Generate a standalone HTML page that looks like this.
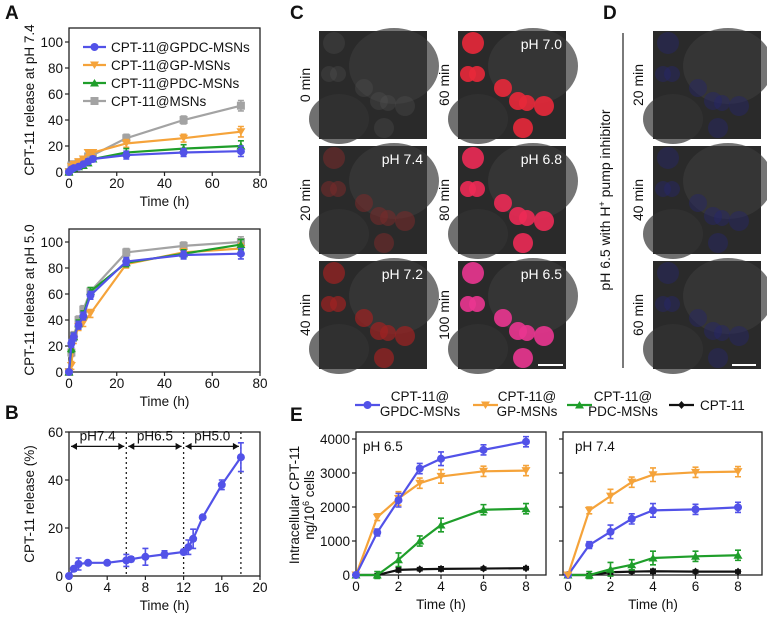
<!DOCTYPE html>
<html><head><meta charset="utf-8">
<style>
html,body{margin:0;padding:0;background:#fff;}
body{width:767px;height:621px;overflow:hidden;font-family:"Liberation Sans",Arial,sans-serif;}
svg text{font-family:"Liberation Sans",Arial,sans-serif;}
</style></head>
<body>
<svg id="fig" width="767" height="621" viewBox="0 0 767 621" xmlns="http://www.w3.org/2000/svg">
<g id="root"></g>
</svg>
<script>
// ---------- Panel A top (pH 7.4) ----------
const aTimes = [0,1,2,4,6,8,10,24,48,72];
const aGPDC = [0,2,3,4,6,8,10,13,15,16];
const aGP = [0,4,6,8,10,15,15,22,26,31];
const aPDC = [0,2,3,4,5,7,10,15,18,20];
const aMSN = [0,5,6,7,8,12,13,26,40,51];
const aErr = [0,1,1,1,1,2,2,3,3,4];
// ---------- Panel A bottom (pH 5.0) ----------
const a5Times = [0,1,2,4,6,9,24,48,72];
const a5GPDC = [0,22,27,36,43,59,85,90,91];
const a5GP = [0,5,25,35,38,45,83,92,95];
const a5PDC = [0,18,27,37,44,62,84,91,98];
const a5MSN = [0,15,28,40,48,62,92,97,100];
const a5Err = [0,3,3,3,3,3,3,3,4];
// ---------- Panel B ----------
const bTimes = [0,0.5,1,2,4,6,6.5,8,10,12,12.5,13,14,16,18];
const bVals = [0,3,5,5.5,5.5,6.5,7,8,9,10,12,15.5,24.5,38,49.5];
const bErr = [0,1,2.5,0.5,0.5,2.5,1,3.5,1.5,1,3,4,0.5,2,6];
const bPhases = ["pH7.4","pH6.5","pH5.0"];
const bBounds = [0,6,12,18];
// ---------- Panel E ----------
const eTimes = [0,1,2,3,4,6,8];
const e65GPDC = [0,1250,2200,3130,3420,3680,3920];
const e65GP = [0,1700,2250,2700,2900,3050,3070];
const e65PDC = [0,0,450,1000,1470,1920,1950];
const e65CPT = [0,0,150,170,180,190,200];
const e74GPDC = [0,880,1270,1650,1900,1930,1990];
const e74GP = [0,1900,2320,2730,2950,3020,3040];
const e74PDC = [0,0,170,300,500,550,580];
const e74CPT = [0,0,80,100,110,100,100];
const eErr = [0,100,200,150,200,150,150];
const eTicksY = [0,1000,2000,3000,4000];
const eTicksX = [0,2,4,6,8];

const NS="http://www.w3.org/2000/svg";
const root=document.getElementById('root');
const C={blue:'#5252e8',orange:'#f5a33a',green:'#1f9e2a',gray:'#a3a3a3',black:'#111'};
function el(tag,attrs,parent){const e=document.createElementNS(NS,tag);for(const k in attrs)e.setAttribute(k,attrs[k]);(parent||root).appendChild(e);return e;}
function txt(x,y,s,attrs,parent){const t=el('text',Object.assign({x:x,y:y,'font-size':13,fill:'#111'},attrs||{}),parent);t.textContent=s;return t;}

function marker(g,shape,x,y,col){
  let m;
  if(shape==='circle') m=el('circle',{cx:x,cy:y,r:4,fill:col},g);
  else if(shape==='square') m=el('rect',{x:x-4,y:y-4,width:8,height:8,fill:col},g);
  else if(shape==='down') m=el('polygon',{points:`${x-4.5},${y-3.5} ${x+4.5},${y-3.5} ${x},${y+4}`,fill:col},g);
  else if(shape==='up') m=el('polygon',{points:`${x-4.5},${y+3.5} ${x+4.5},${y+3.5} ${x},${y-4}`,fill:col},g);
  else m=el('polygon',{points:`${x},${y-4} ${x+3.5},${y} ${x},${y+4} ${x-3.5},${y}`,fill:col},g);
  
  
}
function series(g,xs,ys,errs,sx,sy,col,shape,name){
  const sg=el('g',{},g);
  
  
  let d='';
  xs.forEach((t,i)=>{d+=(i?'L':'M')+sx(t)+','+sy(ys[i]);});
  el('path',{d:d,fill:'none',stroke:col,'stroke-width':2.2},sg);
  xs.forEach((t,i)=>{
    const e=errs?errs[i]:0;
    if(e>0){const x=sx(t);
      el('path',{d:`M${x},${sy(ys[i]-e)}V${sy(ys[i]+e)}M${x-3},${sy(ys[i]-e)}h6M${x-3},${sy(ys[i]+e)}h6`,stroke:col,'stroke-width':1.6,fill:'none'},sg);}
    marker(sg,shape,sx(t),sy(ys[i]),col);
  });
}
// o: {fx0,fx1,top,bottom, px0,px1 (pixel of xmin,xmax), py0,py1 (pixel of ymin,ymax), xmin,xmax,ymin,ymax, xt,yt, yLabels, xlabel}
function axes(name,o){
  const g=el('g',{});
  
  
  const sx=v=>o.px0+(v-o.xmin)/(o.xmax-o.xmin)*(o.px1-o.px0);
  const sy=v=>o.py0-(v-o.ymin)/(o.ymax-o.ymin)*(o.py0-o.py1);
  el('rect',{x:o.fx0,y:o.top,width:o.fx1-o.fx0,height:o.bottom-o.top,fill:'none',stroke:'#222','stroke-width':1.3},g);
  const tx=el('g',{},g);
  o.xt.forEach(v=>{el('line',{x1:sx(v),x2:sx(v),y1:o.bottom,y2:o.bottom+4,stroke:'#222','stroke-width':1.2},tx);
    txt(sx(v),o.bottom+16,String(v),{'text-anchor':'middle','font-size':13.5},tx);});
  const ty=el('g',{},g);
  o.yt.forEach(v=>{el('line',{x1:o.fx0-4,x2:o.fx0,y1:sy(v),y2:sy(v),stroke:'#222','stroke-width':1.2},ty);
    if(o.yLabels) txt(o.fx0-6,sy(v)+5,String(v),{'text-anchor':'end','font-size':13.5},ty);});
  if(o.xlabel){const t=txt((o.px0+o.px1)/2,o.bottom+34,o.xlabel,{'text-anchor':'middle','font-size':13.5},g);}
  return {g,sx,sy};
}
function ytitle(x,y,s,name,size){const t=txt(0,0,s,{'text-anchor':'middle','font-size':size||13.5,transform:`translate(${x},${y}) rotate(-90)`});return t;}
function panelLabel(x,y,s){const t=txt(x,y,s,{'font-size':19,'font-weight':'bold'});}

// Panel A top
panelLabel(5,19,'A');
let A=axes('chart-a-ph74',{fx0:69,fx1:260,top:28,bottom:172,px0:69,px1:260,py0:172,py1:42,xmin:0,xmax:80,ymin:0,ymax:100,xt:[0,20,40,60,80],yt:[0,20,40,60,80,100],yLabels:true,xlabel:'Time (h)'});
series(A.g,aTimes,aMSN,aErr,A.sx,A.sy,C.gray,'square','series-msns');
series(A.g,aTimes,aGP,aErr,A.sx,A.sy,C.orange,'down','series-gp-msns');
series(A.g,aTimes,aPDC,aErr,A.sx,A.sy,C.green,'up','series-pdc-msns');
series(A.g,aTimes,aGPDC,aErr,A.sx,A.sy,C.blue,'circle','series-gpdc-msns');
ytitle(34,100,'CPT-11 release at pH 7.4','y-axis-title-a-top');
const leg=[['CPT-11@GPDC-MSNs',C.blue,'circle'],['CPT-11@GP-MSNs',C.orange,'down'],['CPT-11@PDC-MSNs',C.green,'up'],['CPT-11@MSNs',C.gray,'square']];
leg.forEach((l,i)=>{const g=el('g',{});
  const y=47+i*18;el('line',{x1:83,x2:106,y1:y,y2:y,stroke:l[1],'stroke-width':2.2},g);marker(g,l[2],94.5,y,l[1]);
  txt(111,y+5,l[0],{'font-size':13.5},g);});

// Panel A bottom
let A2=axes('chart-a-ph50',{fx0:69,fx1:260,top:229,bottom:372,px0:69,px1:260,py0:372,py1:242,xmin:0,xmax:80,ymin:0,ymax:100,xt:[0,20,40,60,80],yt:[0,20,40,60,80,100],yLabels:true,xlabel:'Time (h)'});
series(A2.g,a5Times,a5MSN,a5Err,A2.sx,A2.sy,C.gray,'square','series-msns');
series(A2.g,a5Times,a5GP,a5Err,A2.sx,A2.sy,C.orange,'down','series-gp-msns');
series(A2.g,a5Times,a5PDC,a5Err,A2.sx,A2.sy,C.green,'up','series-pdc-msns');
series(A2.g,a5Times,a5GPDC,a5Err,A2.sx,A2.sy,C.blue,'circle','series-gpdc-msns');
ytitle(34,300,'CPT-11 release at pH 5.0','y-axis-title-a-bottom');

// Panel B
panelLabel(5,419,'B');
let B=axes('chart-b',{fx0:69,fx1:260,top:432,bottom:576,px0:69,px1:260,py0:576,py1:432,xmin:0,xmax:20,ymin:0,ymax:60,xt:[0,4,8,12,16,20],yt:[0,20,40,60],yLabels:true,xlabel:'Time (h)'});
bBounds.slice(1).forEach(v=>{el('line',{x1:B.sx(v),x2:B.sx(v),y1:432,y2:576,stroke:'#222','stroke-width':1.3,'stroke-dasharray':'2,3'},B.g);});
bPhases.forEach((p,i)=>{const a=B.sx(bBounds[i])+2,b=B.sx(bBounds[i+1])-2,y=B.sy(54);
  const g=el('g',{},B.g);
  el('line',{x1:a,x2:b,y1:y,y2:y,stroke:'#111','stroke-width':1.3},g);
  el('polygon',{points:`${a},${y} ${a+6},${y-3.5} ${a+6},${y+3.5}`,fill:'#111'},g);
  el('polygon',{points:`${b},${y} ${b-6},${y-3.5} ${b-6},${y+3.5}`,fill:'#111'},g);
  txt((a+b)/2,y-6,p,{'text-anchor':'middle','font-size':13.5},g);});
series(B.g,bTimes,bVals,bErr,B.sx,B.sy,C.blue,'circle','series-release');
ytitle(34,504,'CPT-11 release (%)','y-axis-title-b');

// Panel C & D microscopy
panelLabel(290,19,'C');panelLabel(603,19,'D');
const cells=[[15,12,11],[10,43,8],[19,43,8],[45,57,9],[60,70,9],[69,72,8],[86,75,10],[65,97,10]];
function micro(x,y,name,cellCol,op,label){
  const g=el('g',{});
  el('rect',{x:x,y:y,width:108,height:108,fill:'#2a2a2a'},g);
  el('ellipse',{cx:x+75,cy:y+35,rx:45,ry:38,fill:'#3a3a3a',opacity:0.7},g);
  el('ellipse',{cx:x+20,cy:y+88,rx:30,ry:25,fill:'#333',opacity:0.7},g);
  cells.forEach(c=>{el('circle',{cx:x+c[0],cy:y+c[1],r:c[2],fill:cellCol,opacity:op},g);});
  if(label){txt(x+104,y+18,label,{'text-anchor':'end','font-size':14,fill:'#fff'},g);}
  return g;
}
const cx1=319,cx2=458,rows=[31,146,261];
micro(cx1,rows[0],'image-0-min','#555',0.3);
micro(cx1,rows[1],'image-20-min','#7a2a2a',0.55,'pH 7.4');
micro(cx1,rows[2],'image-40-min','#a02222',0.7,'pH 7.2');
micro(cx2,rows[0],'image-60-min','#e8283a',0.9,'pH 7.0');
micro(cx2,rows[1],'image-80-min','#ec2a55',0.9,'pH 6.8');
micro(cx2,rows[2],'image-100-min','#ea3590',0.9,'pH 6.5');
el('line',{x1:538,x2:563,y1:365,y2:365,stroke:'#fff','stroke-width':2});
['0 min','20 min','40 min'].forEach((s,i)=>ytitle(310,rows[i]+54,s,'row-label',14));
['60 min','80 min','100 min'].forEach((s,i)=>ytitle(449,rows[i]+54,s,'row-label',14));
['20 min','40 min','60 min'].forEach((s,i)=>{micro(653,rows[i],'image-d-'+s.replace(' ','-'),'#26266a',0.45);ytitle(643,rows[i]+54,s,'row-label',14);});
el('line',{x1:732,x2:756,y1:365,y2:365,stroke:'#fff','stroke-width':2});
el('line',{x1:623,x2:623,y1:33,y2:368,stroke:'#333','stroke-width':1.3});
(function(){const t=txt(0,0,'',{'text-anchor':'middle','font-size':14,transform:'translate(610,200) rotate(-90)'});

t.innerHTML='pH 6.5 with H<tspan dy="-5" font-size="9">+</tspan><tspan dy="5"> pump inhibitor</tspan>';})();

// Panel E
panelLabel(290,421,'E');
const eleg=[['CPT-11@','GPDC-MSNs',C.blue,'circle',355,420],['CPT-11@','GP-MSNs',C.orange,'down',473,527],['CPT-11@','PDC-MSNs',C.green,'up',567,623]];
eleg.forEach(l=>{const g=el('g',{});
  el('line',{x1:l[4],x2:l[4]+25,y1:405,y2:405,stroke:l[2],'stroke-width':2.2},g);marker(g,l[3],l[4]+12.5,405,l[2]);
  txt(l[5],401,l[0],{'text-anchor':'middle','font-size':13.5},g);txt(l[5],416,l[1],{'text-anchor':'middle','font-size':13.5},g);});
(function(){const g=el('g',{});
  el('line',{x1:669,x2:694,y1:405,y2:405,stroke:C.black,'stroke-width':2.2},g);marker(g,'diamond',681.5,405,C.black);
  txt(700,410,'CPT-11',{'font-size':13.5},g);})();
let E1=axes('chart-e-ph65',{fx0:356,fx1:546,top:432,bottom:575,px0:356,px1:526,py0:575,py1:439,xmin:0,xmax:8,ymin:0,ymax:4000,xt:eTicksX,yt:eTicksY,yLabels:true,xlabel:'Time (h)'});
series(E1.g,eTimes,e65CPT,eErr.map(v=>v*0.3),E1.sx,E1.sy,C.black,'diamond','series-cpt11');
series(E1.g,eTimes,e65PDC,eErr,E1.sx,E1.sy,C.green,'up','series-pdc-msns');
series(E1.g,eTimes,e65GP,eErr,E1.sx,E1.sy,C.orange,'down','series-gp-msns');
series(E1.g,eTimes,e65GPDC,eErr,E1.sx,E1.sy,C.blue,'circle','series-gpdc-msns');
txt(363,451,'pH 6.5',{'font-size':13.5});
let E2=axes('chart-e-ph74',{fx0:563,fx1:762,top:432,bottom:575,px0:568,px1:738,py0:575,py1:439,xmin:0,xmax:8,ymin:0,ymax:4000,xt:eTicksX,yt:eTicksY,yLabels:false,xlabel:'Time (h)'});
series(E2.g,eTimes,e74CPT,eErr.map(v=>v*0.3),E2.sx,E2.sy,C.black,'diamond','series-cpt11');
series(E2.g,eTimes,e74PDC,eErr,E2.sx,E2.sy,C.green,'up','series-pdc-msns');
series(E2.g,eTimes,e74GPDC,eErr,E2.sx,E2.sy,C.blue,'circle','series-gpdc-msns');
series(E2.g,eTimes,e74GP,eErr,E2.sx,E2.sy,C.orange,'down','series-gp-msns');
txt(575,451,'pH 7.4',{'font-size':13.5});
ytitle(299,505,'Intracellular CPT-11','y-axis-title-e');
(function(){const t=txt(0,0,'',{'text-anchor':'middle','font-size':13.5,transform:'translate(314,505) rotate(-90)'});

t.innerHTML='ng/10<tspan dy="-5" font-size="9">6</tspan><tspan dy="5"> cells</tspan>';})();
</script>
</body></html>
